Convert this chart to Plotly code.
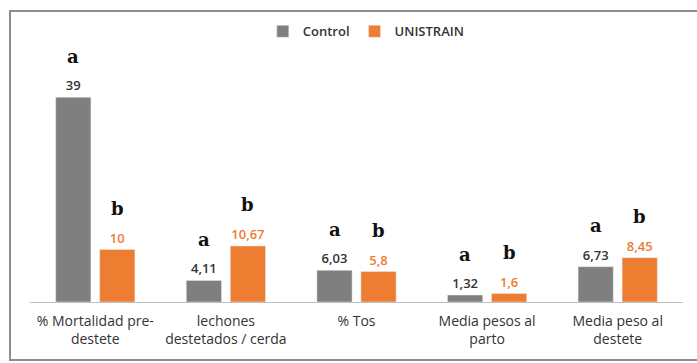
import plotly.graph_objects as go

categories = ["% Mortalidad pre-<br>destete", "lechones<br>destetados / cerda", "% Tos",
              "Media pesos al<br>parto", "Media peso al<br>destete"]
control = [39, 4.11, 6.03, 1.32, 6.73]
unistrain = [10, 10.67, 5.8, 1.6, 8.45]
control_labels = ["39", "4,11", "6,03", "1,32", "6,73"]
unistrain_labels = ["10", "10,67", "5,8", "1,6", "8,45"]
control_letters = ["a", "a", "a", "a", "a"]
unistrain_letters = ["b", "b", "b", "b", "b"]

GRAY = "#7f7f7f"
ORANGE = "#ed7d31"
FONT = "Open Sans"

fig = go.Figure()
fig.add_trace(go.Bar(name="Control", x=categories, y=control, marker_color=GRAY,
                     text=control_labels, textposition="outside",
                     textfont=dict(color="#333333", size=13, family=FONT, weight=600),
                     cliponaxis=False))
fig.add_trace(go.Bar(name="UNISTRAIN", x=categories, y=unistrain, marker_color=ORANGE,
                     text=unistrain_labels, textposition="outside",
                     textfont=dict(color=ORANGE, size=13, family=FONT, weight=600),
                     cliponaxis=False))

annotations = []
for cat, v, l in zip(categories, control, control_letters):
    annotations.append(dict(x=cat, y=v, xref="x", yref="y", text="<b>" + l + "</b>",
                            showarrow=False, xshift=-22, yshift=41, yanchor="middle",
                            font=dict(family="DejaVu Serif", size=18, color="#111111")))
for cat, v, l in zip(categories, unistrain, unistrain_letters):
    annotations.append(dict(x=cat, y=v, xref="x", yref="y", text="<b>" + l + "</b>",
                            showarrow=False, xshift=22, yshift=41, yanchor="middle",
                            font=dict(family="DejaVu Serif", size=18, color="#111111")))

fig.update_layout(
    width=697, height=363,
    margin=dict(l=30, r=14, t=50, b=61, autoexpand=False),
    paper_bgcolor="white", plot_bgcolor="white",
    barmode="group", bargap=0.326, bargroupgap=0.2,
    showlegend=True,
    legend=dict(orientation="h", x=0.515, xanchor="center", y=0.955, yref="container",
                yanchor="top", font=dict(family=FONT, size=13, color="#333333", weight=600),
                traceorder="normal", itemwidth=30, bgcolor="rgba(0,0,0,0)"),
    font=dict(family=FONT, color="#333333"),
    annotations=annotations,
)
fig.update_xaxes(showline=True, linecolor="#bfbfbf", linewidth=1, ticks="",
                 ticklabelstandoff=6,
                 tickfont=dict(family=FONT, size=14, color="#333333", weight=500))
fig.update_yaxes(range=[0, 48], visible=False, showgrid=False)

fig.add_shape(type="rect", xref="paper", yref="paper",
              x0=-20/653, x1=700/653, y0=(302-360)/252, y1=(302-11)/252,
              line=dict(color="#8c8c8c", width=2), fillcolor="rgba(0,0,0,0)", layer="below")

fig.write_html("out.html")
